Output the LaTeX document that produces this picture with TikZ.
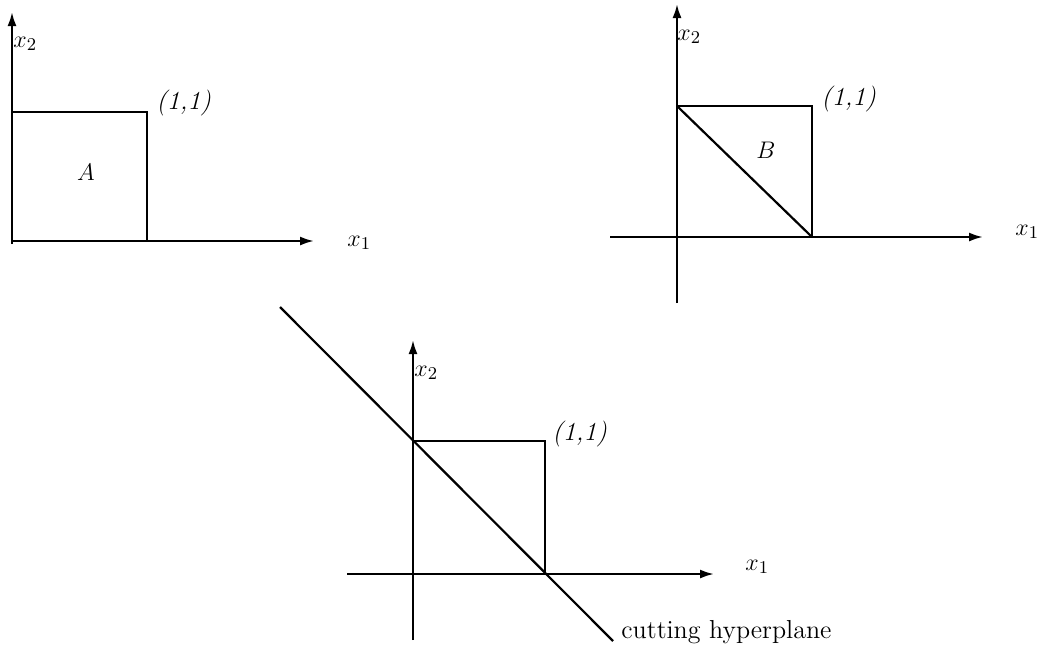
\documentclass[tikz,border=0pt]{standalone}
\usetikzlibrary{arrows.meta}
\begin{document}
\begin{tikzpicture}[x=0.5pt,y=-0.5pt,
  ln/.style={line width=1.1pt},
  axis/.style={line width=1.1pt,-{Latex[length=7pt,width=4.5pt]}},
  lbl/.style={inner sep=0pt,font=\fontsize{13}{15}\selectfont}]
\useasboundingbox (0,0) rectangle (1044,650);
% ---- panel A
\coordinate (aO) at (12,241);
\coordinate (aYb) at (12,244);
\coordinate (aYt) at (12,12);
\coordinate (aXt) at (314,241);
\coordinate (aTL) at (12,112);
\coordinate (aTR) at (147,112);
\coordinate (aBR) at (147,241);
\draw[axis] (aYb) -- (aYt);
\draw[axis] (aO) -- (aXt);
\draw[ln] (aTL) -- (aTR) -- (aBR);
\node[lbl,anchor=west] (ax2) at (13,44) {$x_2$};
\node[lbl,anchor=west] (ax1) at (347,243) {$x_1$};
\node[lbl,anchor=west] (a11) at (156,103) {\textit{(1,1)}};
\node[lbl] (aA) at (86,172) {$A$};
% ---- panel B
\coordinate (bYb) at (677,303);
\coordinate (bYt) at (677,4);
\coordinate (bXl) at (610,237);
\coordinate (bXt) at (983,237);
\coordinate (bTL) at (677,106);
\coordinate (bTR) at (812,106);
\coordinate (bBR) at (812,237);
\draw[axis] (bYb) -- (bYt);
\draw[axis] (bXl) -- (bXt);
\draw[ln] (bTL) -- (bTR) -- (bBR);
\draw[ln] (bTL) -- (bBR);
\node[lbl,anchor=west] (bx2) at (677,37) {$x_2$};
\node[lbl,anchor=west] (bx1) at (1015,232) {$x_1$};
\node[lbl,anchor=west] (b11) at (821,99) {\textit{(1,1)}};
\node[lbl] (bB) at (766,150) {$B$};
% ---- panel C
\coordinate (cYb) at (413,640);
\coordinate (cYt) at (413,340);
\coordinate (cXl) at (347,574);
\coordinate (cXt) at (714,574);
\coordinate (cTL) at (413,441);
\coordinate (cTR) at (545,441);
\coordinate (cBR) at (545,574);
\coordinate (cs) at (280,307);
\coordinate (ce) at (613,641);
\draw[axis] (cYb) -- (cYt);
\draw[axis] (cXl) -- (cXt);
\draw[ln] (cTL) -- (cTR) -- (cBR);
\draw[ln] (cs) -- (ce);
\node[lbl,anchor=west] (cx2) at (414,373) {$x_2$};
\node[lbl,anchor=west] (cx1) at (745,567) {$x_1$};
\node[lbl,anchor=west] (c11) at (552,434) {\textit{(1,1)}};
\node[lbl,anchor=base west] (cut) at (621,638) {cutting hyperplane};
\end{tikzpicture}
\end{document}
